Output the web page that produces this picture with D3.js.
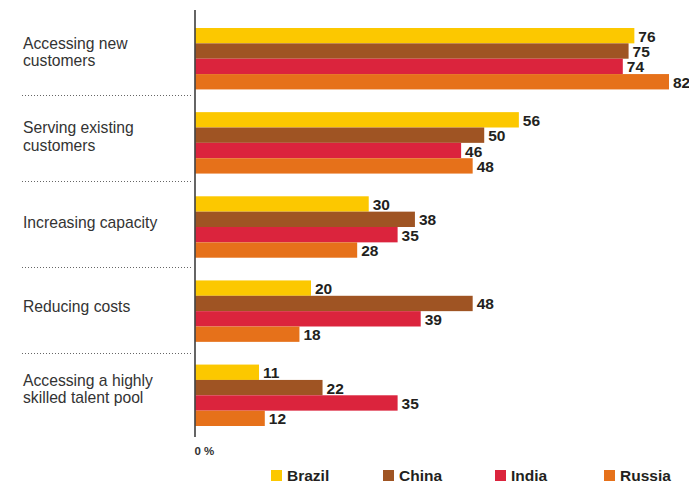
<!DOCTYPE html>
<html>
<head>
<meta charset="utf-8">
<script src="https://cdn.jsdelivr.net/npm/d3@7"></script>
<style>
  html, body { margin: 0; padding: 0; background: #fff; }
  svg { display: block; font-family: "Liberation Sans", Arial, sans-serif; }
</style>
</head>
<body>
<svg id="chart" width="689" height="483"></svg>
<script>
// Reasons for expansion, by country (% of respondents)
const categories = [
  ["Accessing new", "customers"],
  ["Serving existing", "customers"],
  ["Increasing capacity"],
  ["Reducing costs"],
  ["Accessing a highly", "skilled talent pool"]
];
const seriesNames = ["Brazil", "China", "India", "Russia"];
const brazil = [76, 56, 30, 20, 11];
const china  = [75, 50, 38, 48, 22];
const india  = [74, 46, 35, 39, 35];
const russia = [82, 48, 28, 18, 12];
const seriesValues = [brazil, china, india, russia];
const colors = ["#fcc800", "#9f5423", "#db243d", "#e6711a"];
const axisLabel = "0 %";

const svg = d3.select("#chart");

const x = d3.scaleLinear().domain([0, 82]).range([195.5, 669]);
const y0 = d3.scaleBand().domain(d3.range(categories.length)).range([28, 426]).paddingInner(0.27).paddingOuter(0);
const y1 = d3.scaleBand().domain(d3.range(seriesNames.length)).range([0, y0.bandwidth()]);
// dotted rules sit between consecutive groups
const sepY = d3.scaleLinear().domain([0, categories.length - 2]).range([95, 353]);

// bars and value labels
categories.forEach((c, ci) => {
  const g = svg.append("g").attr("transform", `translate(0,${y0(ci)})`);
  seriesValues.forEach((vals, si) => {
    g.append("rect")
      .attr("x", x(0))
      .attr("y", y1(si))
      .attr("width", x(vals[ci]) - x(0))
      .attr("height", y1.bandwidth())
      .attr("fill", colors[si]);
    g.append("text")
      .attr("x", x(vals[ci]) + 4)
      .attr("y", y1(si) + y1.bandwidth() / 2 + 6)
      .attr("font-size", 15.5)
      .attr("font-weight", "bold")
      .attr("fill", "#231f20")
      .text(vals[ci]);
  });
});

// category labels
categories.forEach((lines, ci) => {
  const cy = y0(ci) + y0.bandwidth() / 2;
  const lh = 17.5;
  const top = cy - (lines.length - 1) * lh / 2 + (lines.length > 1 ? -1 : 0.5);
  const t = svg.append("text").attr("font-size", 15.7).attr("fill", "#333");
  lines.forEach((ln, li) => {
    t.append("tspan").attr("x", 23).attr("y", top + li * lh).text(ln);
  });
});

// dotted separators between groups
for (let ci = 0; ci < categories.length - 1; ci++) {
  const sy = Math.round(sepY(ci)) + 0.5;
  svg.append("line")
    .attr("x1", 22).attr("x2", 193)
    .attr("y1", sy).attr("y2", sy)
    .attr("stroke", "#666").attr("stroke-width", 1)
    .attr("stroke-dasharray", "1,2");
}

// vertical axis line
svg.append("line")
  .attr("x1", x(0) - 0.5).attr("x2", x(0) - 0.5)
  .attr("y1", 10).attr("y2", 437)
  .attr("stroke", "#111").attr("stroke-width", 1.3);

svg.append("text")
  .attr("x", x(0) - 1).attr("y", 455)
  .attr("font-size", 11.5).attr("font-weight", "bold")
  .attr("fill", "#333")
  .text(axisLabel);

// legend
const legendX = [271, 383, 495, 604];
seriesNames.forEach((n, i) => {
  svg.append("rect")
    .attr("x", legendX[i]).attr("y", 470)
    .attr("width", 11).attr("height", 11)
    .attr("fill", colors[i]);
  svg.append("text")
    .attr("x", legendX[i] + 16).attr("y", 481)
    .attr("font-size", 15.5).attr("font-weight", "bold")
    .attr("fill", "#231f20")
    .text(n);
});
</script>
</body>
</html>
